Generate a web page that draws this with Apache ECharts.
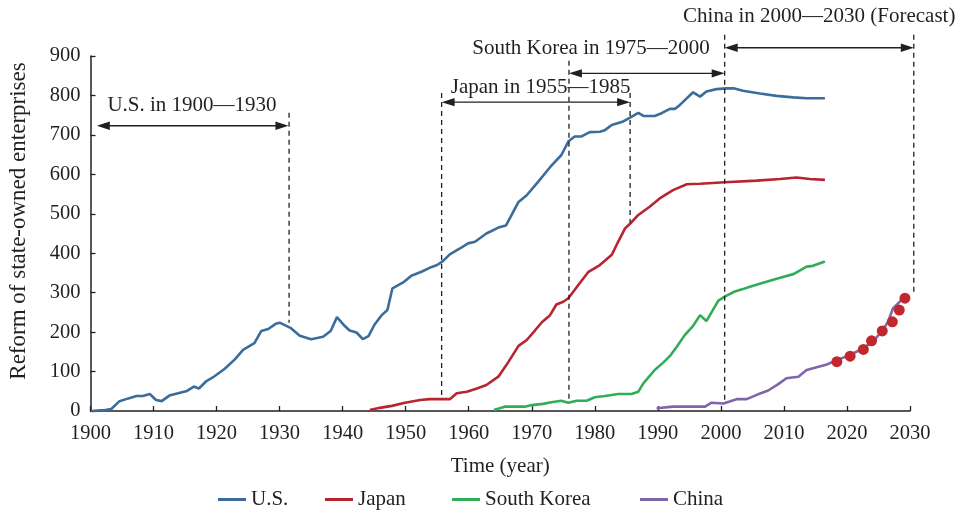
<!DOCTYPE html>
<html><head><meta charset="utf-8">
<script src="https://cdn.jsdelivr.net/npm/echarts@6/dist/echarts.min.js"></script>
<style>html,body{margin:0;padding:0;background:#fff}#c{width:960px;height:510px}</style>
</head><body><div id="c"></div>
<script>
const xTicks = [1900,1910,1920,1930,1940,1950,1960,1970,1980,1990,2000,2010,2020,2030];
const yTicks = [0,100,200,300,400,500,600,700,800,900];
const seriesNames = ['U.S.','Japan','South Korea','China'];

const usData = [[1900.1,0],[1902.3,2.5],[1903.3,5],[1904.6,25],[1906,32],[1907.3,38],[1908.3,38],[1909.4,43],[1910.4,28],[1911.3,25],[1912.5,39],[1913.9,45],[1915.3,51],[1916.4,62],[1917.2,57],[1918.4,76],[1919.4,85],[1921.3,107],[1922.9,131],[1924.2,155],[1926,172],[1927.1,203],[1928.2,208],[1929.5,222],[1930,224],[1931.8,210],[1933.2,191],[1935,182],[1936.9,188],[1938.1,203],[1939.1,238],[1940.3,216],[1941.1,204],[1942.2,199],[1943.2,182],[1944.1,190],[1945.1,220],[1946.2,243],[1947.1,256],[1947.9,311],[1949.6,326],[1950.9,343],[1952.5,353],[1953.8,363],[1955,370],[1955.9,380],[1957,397],[1958.6,412],[1959.9,425],[1961,429],[1962.8,450],[1964.7,465],[1965.9,470],[1967.9,530],[1969.2,547],[1971,581],[1972.9,618],[1974.7,649],[1975.8,683],[1976.8,696],[1977.9,696],[1979.2,707],[1980.8,708],[1981.6,712],[1982.7,725],[1984.5,734],[1985.6,744],[1986.9,756],[1987.7,748],[1989.5,748],[1990.6,755],[1991.9,766],[1992.7,766],[1993.5,776],[1995.6,808],[1996.7,797],[1997.7,810],[1999.3,816],[2000.9,818],[2002,818],[2003.5,812],[2006.2,805],[2008.8,799],[2011.5,795],[2013.6,793],[2016.5,793]];

const japanData = [[1944.3,2.5],[1945.9,8],[1947.8,13],[1949.9,21],[1952.3,28],[1953.8,30],[1957,30],[1958.1,45],[1959.7,49],[1961.3,57],[1962.8,66],[1964.7,87],[1966,117],[1967.9,165],[1969.2,180],[1970.5,204],[1971.6,225],[1972.9,243],[1973.9,270],[1975,277],[1975.8,286],[1977.6,324],[1979,353],[1980.8,370],[1982.7,396],[1983.7,429],[1984.8,463],[1985.8,478],[1986.9,497],[1988.7,518],[1990.3,539],[1992.4,560],[1994.6,575],[1996.7,576],[2000.6,580],[2005.7,584],[2009.4,588],[2012,592],[2014.1,588],[2016.5,586]];

const koreaData = [[1964,2.5],[1965.7,11],[1968.9,11],[1970,15],[1971.8,18],[1973.1,22],[1974.7,26],[1975.8,21],[1977.1,26],[1978.7,26],[1980,35],[1981.6,38],[1983.7,43],[1985.8,43],[1986.9,49],[1987.7,70],[1989.5,104],[1990.8,122],[1991.9,139],[1993,163],[1994.3,193],[1995.6,216],[1996.7,243],[1997.7,228],[1999.6,280],[2000.6,290],[2002.2,303],[2003.5,309],[2004.6,315],[2006.7,325],[2009.4,338],[2011.5,347],[2012.5,356],[2013.6,366],[2014.6,368],[2016.5,379]];

const chinaData = [[1989.8,7],[1992.4,11],[1997.5,11],[1998.5,21],[2000.4,19],[2002.5,30],[2004.1,30],[2005.7,41],[2007.5,52],[2009.1,68],[2010.4,83],[2012.3,87],[2013.6,104],[2015.2,111],[2016.8,118],[2018.4,129],[2020.5,142],[2022.6,159],[2024.2,178],[2025.5,201],[2026.5,226],[2027.3,260],[2029.2,290]];

const forecastData = [[2018.4,125],[2020.5,139],[2022.6,156],[2023.9,178],[2025.6,203],[2027.2,226],[2028.3,256],[2029.2,286]];

const periodLabels = ['U.S. in 1900\u20141930','Japan in 1955\u20141985','South Korea in 1975\u20142000','China in 2000\u20142030 (Forecast)'];
const periodStart = [1901.0, 1955.7, 1975.9, 2000.6];
const periodEnd = [1931.4, 1985.6, 2000.6, 2030.6];
const periodArrowValue = [723, 783, 856, 921];
const periodLabelPos = [[1916.1,774],[1971.4,821],[1979.4,920],[2015.6,1000]];
const guideYears = [1931.5, 1955.7, 1985.6, 1975.9, 2000.6, 2030.6];
const guideTop = [756, 806, 806, 888, 954, 954];
const guideBottom = [224, 30, 477, 25, 20, 298];

const colors = ['#3a6d9c','#b8242f','#31ad58','#7f66a9'];
const FONT = '"Liberation Serif", "Times New Roman", serif';
const TXT = '#231f20';

const chart = echarts.init(document.getElementById('c'));
const lineSeries = [usData, japanData, koreaData, chinaData].map((d,i)=>({
  name: seriesNames[i], type:'line', data:d, symbol:'none', smooth:false,
  lineStyle:{width:2.6,color:colors[i]}, itemStyle:{color:colors[i]}, z:3
}));
lineSeries.push({
  name:'Forecast', type:'scatter', data:forecastData, symbolSize:11,
  itemStyle:{color:'#c1272d', opacity:1}, z:4
});

const legendLeft = [218, 325, 452, 640];
const legends = seriesNames.map((n,i)=>({
  data:[n], left:legendLeft[i], top:489, padding:0, icon:'rect', itemWidth:28, itemHeight:3,
  textStyle:{fontFamily:FONT, fontSize:21, color:TXT}
}));

chart.setOption({
  animation:false,
  backgroundColor:'#fff',
  grid:{left:90.5, right:50, top:56, bottom:99, containLabel:false, outerBoundsMode:'none'},
  xAxis:{type:'value', min:1900, max:2030, interval:10,
    name:'Time (year)', nameLocation:'middle', nameGap:45,
    nameTextStyle:{fontFamily:FONT, fontSize:21, color:TXT},
    axisLine:{lineStyle:{color:'#231f20', width:1.5}},
    axisTick:{inside:true, length:5, lineStyle:{color:'#231f20', width:1.3}},
    axisLabel:{fontFamily:FONT, fontSize:20.5, color:TXT, margin:12,
      formatter:v=> xTicks.includes(v) ? String(v) : ''},
    splitLine:{show:false}},
  yAxis:{type:'value', min:0, max:900, interval:100,
    axisLine:{show:true, lineStyle:{color:'#231f20', width:1.5}},
    axisTick:{show:true, inside:true, length:5, lineStyle:{color:'#231f20', width:1.3}},
    axisLabel:{fontFamily:FONT, fontSize:20.5, color:TXT, margin:10,
      formatter:v=> yTicks.includes(v) ? String(v) : ''},
    splitLine:{show:false}},
  legend: legends,
  series: lineSeries
});

const P = (x,y)=>chart.convertToPixel({gridIndex:0},[x,y]);
const g = [];
const dashStyle = {stroke:'#231f20', lineWidth:1.3, lineDash:[5,4]};
guideYears.forEach((yr,i)=>{
  const a = P(yr, guideTop[i]), b = P(yr, guideBottom[i]);
  g.push({type:'line', shape:{x1:a[0],y1:a[1],x2:b[0],y2:b[1]}, style:dashStyle, z:10});
});
const AH = 13, AW = 4.2;
periodLabels.forEach((lab,i)=>{
  const a = P(periodStart[i], periodArrowValue[i]), b = P(periodEnd[i], periodArrowValue[i]);
  const y = a[1];
  g.push({type:'line', shape:{x1:a[0]+4,y1:y,x2:b[0]-4,y2:y}, style:{stroke:'#231f20', lineWidth:1.4}, z:10});
  g.push({type:'polygon', shape:{points:[[a[0],y],[a[0]+AH,y-AW],[a[0]+AH,y+AW]]}, style:{fill:'#231f20'}, z:10});
  g.push({type:'polygon', shape:{points:[[b[0],y],[b[0]-AH,y-AW],[b[0]-AH,y+AW]]}, style:{fill:'#231f20'}, z:10});
  const t = P(periodLabelPos[i][0], periodLabelPos[i][1]);
  g.push({type:'text', x:t[0], y:t[1], style:{text:lab, fontFamily:FONT, fontSize:21, fill:TXT,
    textAlign:'center', textVerticalAlign:'middle'}, z:11});
});
g.push({type:'text', x:19, y:221, rotation:Math.PI/2,
  style:{text:'Reform of state-owned enterprises', fontFamily:FONT, fontSize:23, fill:TXT,
    textAlign:'center', textVerticalAlign:'middle'}, z:11});
chart.setOption({graphic:g});
</script></body></html>
